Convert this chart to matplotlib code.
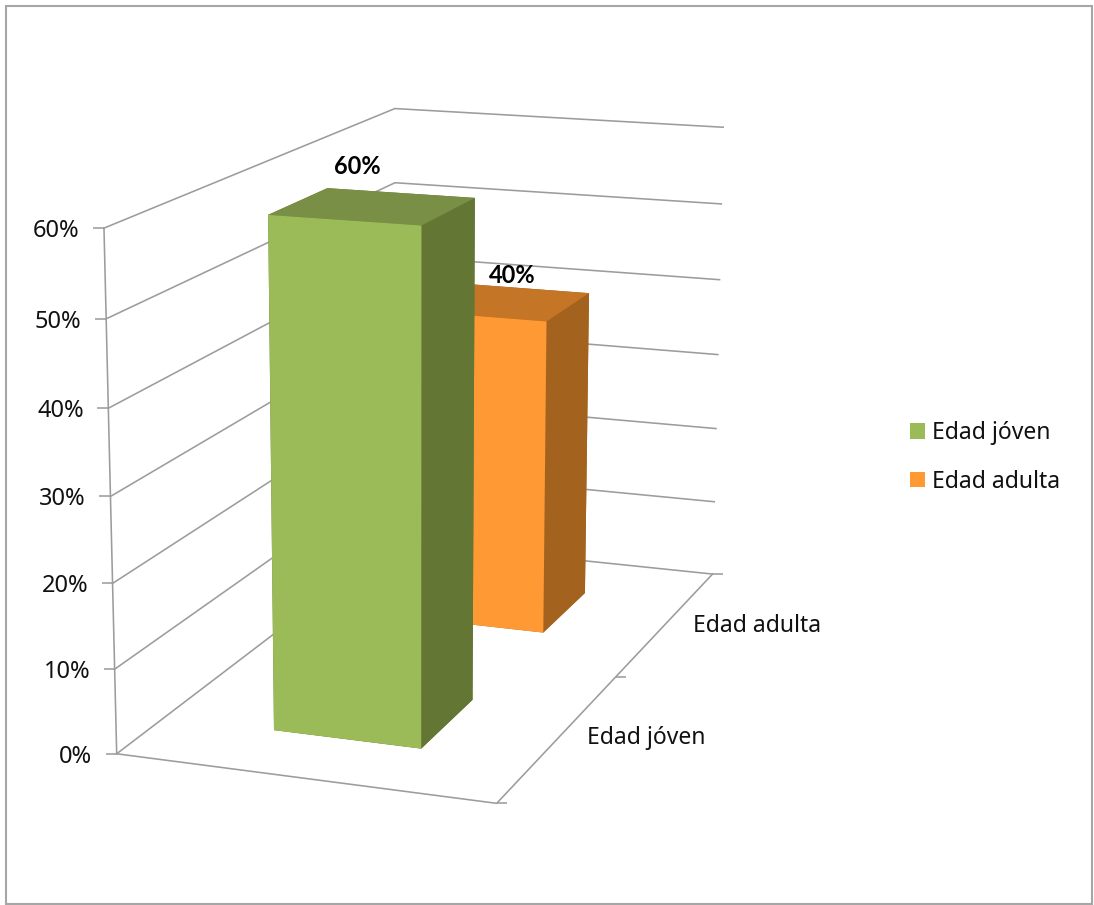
import numpy as np
import matplotlib
matplotlib.use('Agg')
import matplotlib.pyplot as plt
from matplotlib.patches import Patch, Rectangle
from matplotlib.markers import TICKLEFT, TICKRIGHT
from mpl_toolkits.mplot3d import proj3d

# ---- data ----
categories = ['Edad jóven', 'Edad adulta']
values = [60, 40]
value_ticks = [0, 10, 20, 30, 40, 50, 60]
data_labels = ['60%', '40%']

# ---- style ----
front_colors = ['#9BBB59', '#FF9933']
top_colors = ['#788F45', '#C47525']
side_colors = ['#647634', '#A3631F']
line_color = '#9C9C9C'
font = 'Noto Sans'
W, H = 1094, 905

plt.rcParams['font.family'] = font
fig = plt.figure(figsize=(W/100, H/100), dpi=100)
fig.patch.set_facecolor('white')
fig.add_artist(Rectangle((6/W, 1-904/H), (1092-6)/W, (904-6)/H, transform=fig.transFigure,
                         fill=False, edgecolor='#A6A6A6', linewidth=1.5))

S = 1.04159*905
ax = fig.add_axes([-43.65/W, 1.58/H, S/W, S/H], projection='3d')
ax.computed_zorder = False
ax.view_init(14.277, -70.3712, -0.1153)
ax.set_proj_type('persp', focal_length=0.6324)
ax.set_box_aspect((0.7506, 1.4948, 1))
ax.set_xlim(0, 1, view_margin=0)
ax.set_ylim(0, len(categories), view_margin=0)
ax.set_zlim(0, max(value_ticks), view_margin=0)
ax.set_axis_off()

lw = 1.15
nd = len(categories)
zmax = max(value_ticks)
# walls: gridlines at each value tick
for z in value_ticks:
    ax.plot([0, 0, 1], [0, nd, nd], [z, z, z], color=line_color, lw=lw, zorder=1)
ax.plot([0, 0], [0, 0], [0, zmax], color=line_color, lw=lw, zorder=1)
ax.plot([0, 1, 1], [0, 0, nd], [0, 0, 0], color=line_color, lw=lw, zorder=1)
# tick marks
ax.plot([0]*len(value_ticks), [0]*len(value_ticks), value_ticks, ls='none', marker=TICKLEFT,
        ms=8, mew=lw, color=line_color, zorder=1)
ax.plot([1]*(nd+1), list(range(nd+1)), [0]*(nd+1), ls='none', marker=TICKRIGHT,
        ms=7, mew=lw, color=line_color, zorder=1)

# bars, farthest first
x0, bar_w = 0.3021, 0.7009-0.3021
d0, bar_d = 0.2954, 0.69-0.2954
for i in reversed(range(nd)):
    faces = [side_colors[i], top_colors[i], front_colors[i], side_colors[i], side_colors[i], side_colors[i]]
    ax.bar3d(x0, i+d0, 0, bar_w, bar_d, values[i], color=faces, shade=False, linewidth=0, zorder=3+nd-i)

M = ax.get_proj()
def anchor(x, y, z):
    xs, ys, _ = proj3d.proj_transform(x, y, z, M)
    return float(xs), float(ys)

fs = 16.5
for z in value_ticks:
    ax.annotate(f'{z}%', xy=anchor(0, 0, z), xytext=(-24.5, -3), textcoords='offset pixels',
                ha='right', va='center', fontsize=17, color='#111111', annotation_clip=False, zorder=9)
depth_off = [(86.5, -2), (90, -3)]
for i, c in enumerate(categories):
    ax.annotate(c, xy=anchor(1, i+0.5, 0), xytext=depth_off[i], textcoords='offset pixels',
                ha='center', va='center', fontsize=fs, color='#111111', annotation_clip=False, zorder=9)
label_off = [(-16, 40), (12, 26)]
for i, t in enumerate(data_labels):
    ax.annotate(t, xy=anchor(x0+bar_w/2, i+d0+bar_d/2, values[i]), xytext=label_off[i], textcoords='offset pixels',
                ha='center', va='center', fontsize=17, fontweight='bold', family='Lato', color='black',
                annotation_clip=False, zorder=10)

handles = [Patch(facecolor=front_colors[i], edgecolor='none', label=categories[i]) for i in range(nd)]
fig.legend(handles=handles, loc='upper left', bbox_to_anchor=(910/W, 1-421/H), frameon=False, fontsize=fs,
           handlelength=0.66, handleheight=0.66, handletextpad=0.3, labelspacing=1.08, borderpad=0, borderaxespad=0,
           labelcolor='#111111')

fig.savefig('out.png', dpi=100)
